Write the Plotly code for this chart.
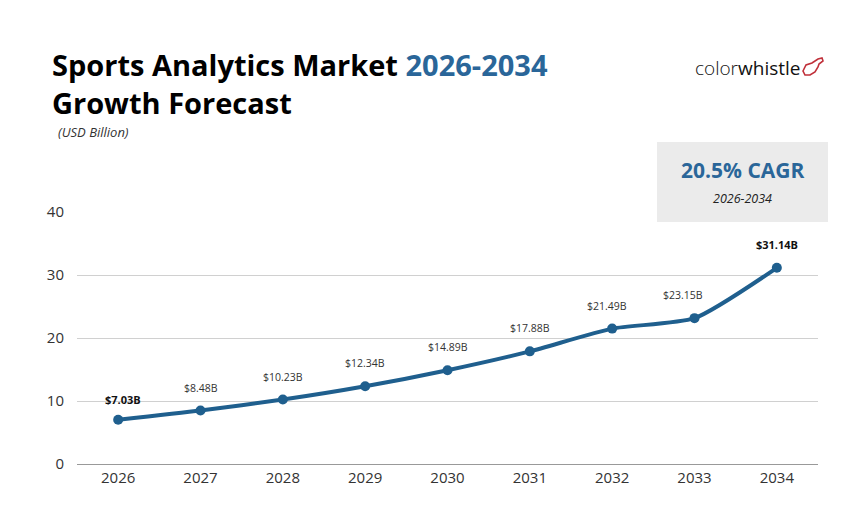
import plotly.graph_objects as go

years = [2026, 2027, 2028, 2029, 2030, 2031, 2032, 2033, 2034]
values = [7.03, 8.48, 10.23, 12.34, 14.89, 17.88, 21.49, 23.15, 31.14]
labels = ["$7.03B", "$8.48B", "$10.23B", "$12.34B", "$14.89B", "$17.88B", "$21.49B", "$23.15B", "$31.14B"]
y_ticks = [0, 10, 20, 30, 40]

BLUE = "#1f5f8e"
TITLE_BLUE = "#2a6699"
FONT = "Open Sans"

L, R, T, B = 77, 32, 212, 56
W, H = 850, 520
PW, PH = W - L - R, H - T - B

def px(x):
    return (x - L) / PW

def py(y):
    return (H - B - y) / PH

fig = go.Figure()
fig.add_trace(go.Scatter(
    x=years, y=values, mode="lines+markers",
    line=dict(color=BLUE, width=4, shape="spline", smoothing=0.6),
    marker=dict(color=BLUE, size=10),
    hoverinfo="skip", cliponaxis=False,
))

last = len(values) - 1
for i, (yr, v, lab) in enumerate(zip(years, values, labels)):
    bold = i == 0 or i == last
    fig.add_annotation(
        x=yr, y=v, text=f"<b>{lab}</b>" if bold else lab,
        showarrow=False, yanchor="bottom", yshift=11 if i == 0 else 14,
        xshift=5 if i == 0 else (-12 if i == 7 else (-5 if i == 6 else 0)),
        font=dict(family=FONT, size=11 if bold else 10.5, color="#111" if bold else "#333"),
    )

# Title
fig.add_annotation(xref="paper", yref="paper", x=px(50), y=py(43), xanchor="left", yanchor="top",
                   align="left",
                   text=("<b>Sports Analytics Market <span style='color:%s'>2026-2034</span>"
                         "<br>Growth Forecast</b>") % TITLE_BLUE,
                   showarrow=False, font=dict(family=FONT, size=29, color="#000"))
fig.add_annotation(xref="paper", yref="paper", x=px(56), y=py(132), xanchor="left", yanchor="middle",
                   text="<i>(USD Billion)</i>", showarrow=False,
                   font=dict(family=FONT, size=13, color="#333"))

# Logo
fig.add_annotation(xref="paper", yref="paper", x=px(802), y=py(68), xanchor="right", yanchor="middle",
                   text="<span style='font-weight:300'>color</span>whistle", showarrow=False,
                   font=dict(family=FONT, size=19, color="#111"))
wx, wy = 803, 57
pts = [(0, 14), (3, 8), (9, 6), (15, 2), (19, 1), (20, 4), (16, 7), (15, 10), (12, 15), (7, 18), (2, 18)]
path = "M " + " L ".join(f"{px(wx + a):.5f},{py(wy + b):.5f}" for a, b in pts) + " Z"
fig.add_shape(type="path", xref="paper", yref="paper", path=path,
              line=dict(color="#c0303a", width=1.6), fillcolor="rgba(0,0,0,0)")

# CAGR box
fig.add_shape(type="rect", xref="paper", yref="paper", x0=px(657), x1=px(828), y0=py(222), y1=py(142),
              fillcolor="#ebebeb", line=dict(width=0), layer="below")
fig.add_annotation(xref="paper", yref="paper", x=px(742.5), y=py(170), xanchor="center", yanchor="middle",
                   text="<b>20.5% CAGR</b>", showarrow=False,
                   font=dict(family=FONT, size=21, color=TITLE_BLUE))
fig.add_annotation(xref="paper", yref="paper", x=px(742.5), y=py(198), xanchor="center", yanchor="middle",
                   text="<i>2026-2034</i>", showarrow=False,
                   font=dict(family=FONT, size=12.5, color="#222"))

fig.update_layout(
    width=W, height=H, margin=dict(l=L, r=R, t=T, b=B),
    paper_bgcolor="white", plot_bgcolor="white", showlegend=False,
    font=dict(family=FONT),
    xaxis=dict(range=[years[0] - 0.5, years[-1] + 0.5], tickvals=years, ticktext=[str(y) for y in years],
               showgrid=False, zeroline=False, showline=True, linecolor="#999", linewidth=1.2,
               ticks="", tickfont=dict(size=15, color="#333"), fixedrange=True),
    yaxis=dict(range=[0, 40], tickvals=y_ticks, showgrid=True, gridcolor="#d0d0d0", gridwidth=1,
               zeroline=False, showline=False, ticks="", tickfont=dict(size=15, color="#333"),
               ticklabelstandoff=12, fixedrange=True),
)

fig.write_html("out.html")
